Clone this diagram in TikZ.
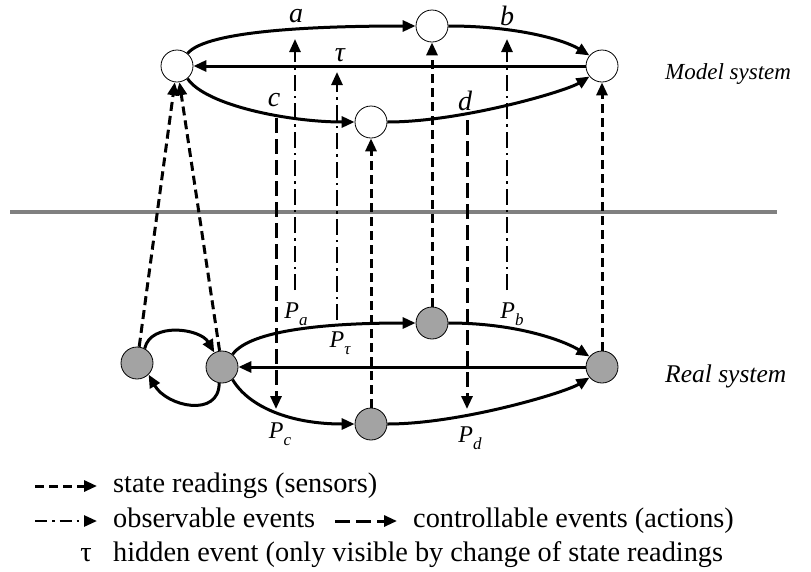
\documentclass[tikz,border=0pt]{standalone}
\usepackage{fontspec}
\setmainfont{Liberation Serif}
\usetikzlibrary{arrows.meta}
% subscripted place label
\newcommand\plabel[2]{#1\raisebox{-0.3em}{\fontsize{17}{17}\selectfont #2}}
\begin{document}
\begin{tikzpicture}[x=1pt,y=1pt,
  state/.style={circle, draw, line width=0.8pt, minimum size=32pt, inner sep=0pt},
  model/.style={state, fill=white},
  real/.style={state, fill=black!36},
  tip/.style={-{Triangle[length=13pt,width=11pt]}},
  trans/.style={line width=3pt, tip},
  sensor/.style={line width=3pt, dash pattern=on 9pt off 5pt, tip},
  observ/.style={line width=2.6pt, dash pattern=on 16pt off 5pt on 2.5pt off 5pt, tip},
  control/.style={line width=3pt, dash pattern=on 15pt off 6pt, tip},
  lbl/.style={font=\fontsize{28}{28}\selectfont\itshape, inner sep=0pt},
  plbl/.style={font=\fontsize{24}{24}\selectfont\itshape, inner sep=0pt},
  systext/.style={anchor=west, inner sep=0pt},
  legtext/.style={font=\fontsize{28.3}{30}\selectfont, anchor=base west, inner sep=0pt},
]
\useasboundingbox (0,0) rectangle (811,-571);

% separator between model and real system
\draw[line width=4pt, black!50] (10,-212) coordinate (sepL) -- (777,-212) coordinate (sepR);

% model system states
\node[model] (M0) at (177,-66) {};
\node[model] (M1) at (432,-26) {};
\node[model] (M2) at (602,-66) {};
\node[model] (M3) at (371,-122) {};
% real system states
\node[real] (R0) at (137,-363) {};
\node[real] (R1) at (222,-367) {};
\node[real] (R2) at (432,-323) {};
\node[real] (R3) at (371,-424) {};
\node[real] (R4) at (602,-367) {};

\node[systext, font=\fontsize{23}{23}\selectfont\itshape] (msys) at (665,-74) {Model system};
\node[systext, font=\fontsize{25.5}{25.5}\selectfont\itshape] (rsys) at (665,-376) {Real system};

% model transitions
\draw[trans] (M0.50) .. controls (207,-30) and (320,-26) .. (M1.west);
\draw[trans] (M1.east) .. controls +(70,0) and +(-24,15) .. (M2.140);
\draw[trans] (M2) -- (M0);
\draw[trans] (M0.-50) .. controls +(18,-27) and +(-65,0) .. (M3.west);
\draw[trans] (M3.east) .. controls +(73,0) and +(-24,-15) .. (M2.-140);

% real transitions
\draw[trans] (R1.50) .. controls +(18,25) and +(-86,0) .. (R2.west);
\draw[trans] (R2.east) .. controls +(70,0) and +(-24,15) .. (R4.140);
\draw[trans] (R4) -- (R1);
\draw[trans] (R1.-50) .. controls +(16,-27) and +(-65,0) .. (R3.west);
\draw[trans] (R3.east) .. controls +(73,0) and +(-24,-15) .. (R4.-140);
\draw[trans] (R0.62) .. controls +(6,27) and +(-14,24) .. (R1.118);
\draw[trans] (R1.-100) .. controls +(0,-35) and +(18,-32) .. (R0.-45);

% event labels in the model
\node[lbl] (la) at (296,-16) {a};
\node[lbl] (lb) at (507,-16) {b};
\node[lbl] (lt) at (340,-55) {τ};
\node[lbl] (lc) at (274,-100) {c};
\node[lbl] (ld) at (465,-101) {d};

% event labels in the real system
\node[plbl] (Pa) at (296,-314) {\plabel{P}{a}};
\node[plbl] (Pt) at (340,-343) {\plabel{P}{τ}};
\node[plbl] (Pb) at (512,-314) {\plabel{P}{b}};
\node[plbl] (Pc) at (280,-434) {\plabel{P}{c}};
\node[plbl] (Pd) at (470,-438) {\plabel{P}{d}};

% state readings (sensors)
\draw[sensor] (R2) -- (M1);
\draw[sensor] (R3) -- (M3);
\draw[sensor] (R4) -- (M2);
\draw[sensor] (R0) -- (M0);
\draw[sensor] (R1) -- (M0);

% observable events
\coordinate (oa0) at (295,-290); \coordinate (oa1) at (295,-39);
\coordinate (ot0) at (337,-320); \coordinate (ot1) at (337,-72);
\coordinate (ob0) at (507,-290); \coordinate (ob1) at (507,-39);
\draw[observ] (oa0) -- (oa1);
\draw[observ] (ot0) -- (ot1);
\draw[observ] (ob0) -- (ob1);

% controllable events (actions)
\coordinate (cc0) at (276,-118); \coordinate (cc1) at (276,-409);
\coordinate (cd0) at (467,-120); \coordinate (cd1) at (467,-409);
\draw[control] (cc0) -- (cc1);
\draw[control] (cd0) -- (cd1);

% legend
\coordinate (k1a) at (35,-486); \coordinate (k1b) at (97,-486);
\coordinate (k2a) at (35,-521); \coordinate (k2b) at (97,-521);
\coordinate (k3a) at (335,-521); \coordinate (k3b) at (397,-521);
\draw[sensor] (k1a) -- (k1b);
\draw[observ, dash pattern=on 12pt off 5pt on 2.5pt off 5pt] (k2a) -- (k2b);
\draw[control] (k3a) -- (k3b);
\node[legtext] (t1) at (113,-492) {state readings (sensors)};
\node[legtext] (t2) at (113,-527) {observable events};
\node[legtext] (t3) at (413,-527) {controllable events (actions)};
\node[legtext, anchor=base east] (t4) at (92,-561) {τ};
\node[legtext] (t5) at (113,-561) {hidden event (only visible by change of state readings};
\end{tikzpicture}
\end{document}
